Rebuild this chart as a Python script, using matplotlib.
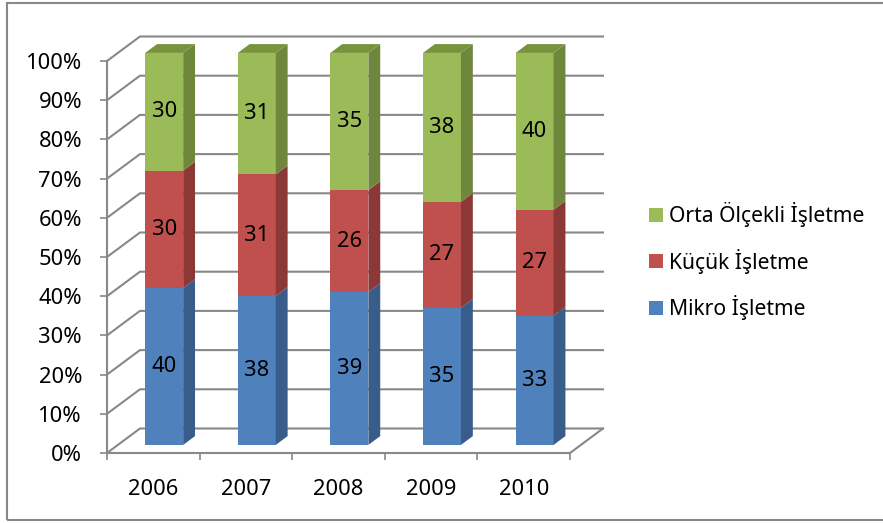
import numpy as np
import matplotlib
matplotlib.use("Agg")
import matplotlib.pyplot as plt
from matplotlib.patches import Polygon, Patch, Rectangle

plt.rcParams['font.family'] = ['Noto Sans', 'DejaVu Sans']

# veriler
years = ['2006', '2007', '2008', '2009', '2010']
mikro = [40, 38, 39, 35, 33]
kucuk = [30, 31, 26, 27, 27]
orta = [30, 31, 35, 38, 40]
series_names = ['Mikro İşletme', 'Küçük İşletme', 'Orta Ölçekli İşletme']
yticks = [0, 10, 20, 30, 40, 50, 60, 70, 80, 90, 100]
ytick_labels = ['0%', '10%', '20%', '30%', '40%', '50%', '60%', '70%', '80%', '90%', '100%']

# renkler: on yuz, yan yuz, ust yuz
front_cols = ['#4F81BD', '#C0504D', '#9BBB59']
side_cols = ['#385D8A', '#8C3836', '#6E873D']
top_cols = ['#4A76AA', '#A94744', '#77933C']
grid_col = '#888888'

# 3B derinlik (veri birimi cinsinden)
DX, DY = 0.356, 6.25
z0, z1 = 0.33, 0.69
W = 0.41
FS = 15.8

fig = plt.figure(figsize=(8.83, 5.23), dpi=100)
ax = fig.add_axes([107 / 883, 70 / 523, 463 / 883, 392 / 523])
ax.set_xlim(-0.5, 4.5)
ax.set_ylim(0, 100)

# arka duvar cizgileri
for y in yticks:
    ax.plot([-0.5, -0.5 + DX, 4.5 + DX], [y, y + DY, y + DY],
            color=grid_col, lw=1.5, clip_on=False, zorder=1)
ax.plot([4.5, 4.5 + DX], [0, DY], color=grid_col, lw=1.5, clip_on=False, zorder=1)

# yigilmis 3B cubuklar
x = np.arange(len(years))
data = [mikro, kucuk, orta]
bottom = np.zeros(len(years))
bx0, by0 = z0 * DX, z0 * DY
ddx, ddy = (z1 - z0) * DX, (z1 - z0) * DY
for s, vals in enumerate(data):
    vals = np.array(vals, dtype=float)
    ax.bar(x + bx0, vals, width=W, bottom=bottom + by0, color=front_cols[s],
           linewidth=0, zorder=3, clip_on=False)
    for i in range(len(years)):
        xr = x[i] + bx0 + W / 2
        xl = x[i] + bx0 - W / 2
        b = bottom[i] + by0
        t = b + vals[i]
        ax.add_patch(Polygon([(xr, b), (xr + ddx, b + ddy), (xr + ddx, t + ddy), (xr, t)],
                             closed=True, facecolor=side_cols[s], lw=0, zorder=3, clip_on=False))
        if s == len(data) - 1:
            ax.add_patch(Polygon([(xl, t), (xr, t), (xr + ddx, t + ddy), (xl + ddx, t + ddy)],
                                 closed=True, facecolor=top_cols[s], lw=0, zorder=3, clip_on=False))
        ax.text(x[i] + bx0, b + vals[i] / 2, str(int(vals[i])), ha='center', va='center',
                fontsize=FS, color='black', zorder=4)
    bottom = bottom + vals

# eksenler
for side in ['top', 'right']:
    ax.spines[side].set_visible(False)
for side in ['left', 'bottom']:
    ax.spines[side].set_color(grid_col)
    ax.spines[side].set_linewidth(1.5)
ax.set_yticks(yticks, ytick_labels)
ax.tick_params(axis='y', length=5, width=1.2, color=grid_col, pad=13, labelsize=FS)
ax.set_xticks(np.arange(-0.5, 5, 1.0))
ax.tick_params(axis='x', which='major', length=5, width=1.2, color=grid_col, labelbottom=False)
ax.set_xticks(x, years, minor=True)
ax.tick_params(axis='x', which='minor', length=0, pad=19, labelsize=FS)
ax.set_facecolor('none')

# lejant
handles = [Patch(facecolor=front_cols[s]) for s in range(3)][::-1]
fig.legend(handles, series_names[::-1], loc='center left',
           bbox_to_anchor=(649 / 883, 1 - 261 / 523), frameon=False, fontsize=15.2,
           handlelength=0.65, handleheight=0.65, handletextpad=0.3, labelspacing=1.02,
           borderpad=0, borderaxespad=0)

# cerceve
fig.patches.append(Rectangle((7 / 883, 3 / 523), 1.2, 517 / 523, transform=fig.transFigure,
                             fill=False, edgecolor=grid_col, lw=1.5, figure=fig))

fig.savefig('out.png', dpi=100)
